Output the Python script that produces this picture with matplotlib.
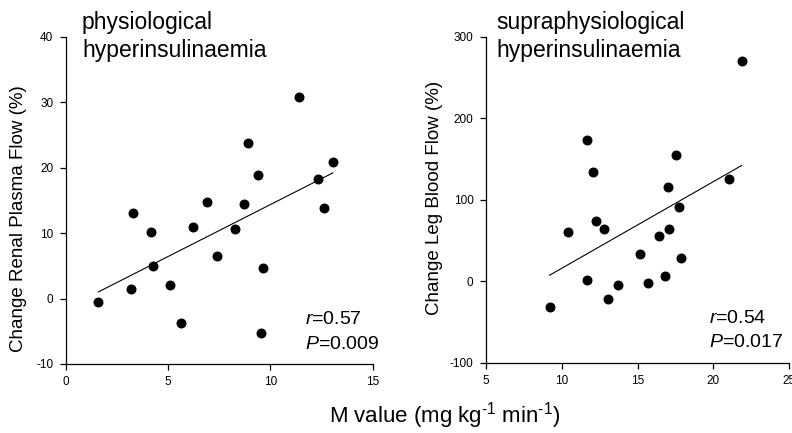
"""Renal plasma flow and leg blood flow change versus M value."""

import matplotlib

matplotlib.use("Agg")
import matplotlib.pyplot as plt
import numpy as np

plt.rcParams["font.family"] = ["Liberation Sans", "DejaVu Sans"]
plt.rcParams["mathtext.fontset"] = "custom"
plt.rcParams["mathtext.rm"] = "Liberation Sans"
plt.rcParams["mathtext.it"] = "Liberation Sans:italic"
plt.rcParams["axes.unicode_minus"] = False

# physiological hyperinsulinaemia
phys_m = [1.60, 3.18, 3.31, 4.15, 4.25, 5.10, 5.64, 6.24, 6.91, 7.41,
          8.27, 8.70, 8.93, 9.38, 9.53, 9.64, 11.42, 12.31, 12.61, 13.05]
phys_rpf = [-0.5, 1.5, 13.1, 10.2, 4.9, 2.0, -3.7, 10.9, 14.7, 6.5,
            10.6, 14.5, 23.7, 18.8, -5.3, 4.7, 30.8, 18.3, 13.8, 20.8]

# supraphysiological hyperinsulinaemia
supra_m = [9.19, 10.42, 11.69, 11.69, 12.04, 12.28, 12.79, 13.03, 13.73, 15.18,
           15.68, 16.40, 16.80, 16.97, 17.04, 17.54, 17.70, 17.89, 21.00, 21.86]
supra_lbf = [-32, 60, 173, 2, 134, 74, 64, -22, -5, 33,
             -2, 55, 6, 116, 64, 155, 91, 29, 126, 270]

panels = [
    dict(x=phys_m, y=phys_rpf, title=("physiological", "hyperinsulinaemia"),
         ylabel="Change Renal Plasma Flow (%)", r="0.57", p="0.009",
         xlim=(0, 15), ylim=(-10, 40), xticks=[0, 5, 10, 15],
         yticks=[-10, 0, 10, 20, 30, 40],
         rect=[0.083, 0.1594, 0.3876, 0.7558], title_x=0.053,
         stat_x=0.78, ylab_pos=(0.023, 0.494)),
    dict(x=supra_m, y=supra_lbf, title=("supraphysiological", "hyperinsulinaemia"),
         ylabel="Change Leg Blood Flow (%)", r="0.54", p="0.017",
         xlim=(5, 25), ylim=(-100, 300), xticks=[5, 10, 15, 20, 25],
         yticks=[-100, 0, 100, 200, 300],
         rect=[0.6136, 0.1624, 0.383, 0.7528], title_x=0.033,
         stat_x=0.735, ylab_pos=(0.548, 0.543)),
]

fig = plt.figure(figsize=(7.92, 4.33), dpi=100)

for panel in panels:
    ax = fig.add_axes(panel["rect"])
    x = np.asarray(panel["x"])
    y = np.asarray(panel["y"])
    ax.scatter(x, y, s=38, color="black", zorder=3, clip_on=False)
    slope, intercept = np.polyfit(x, y, 1)
    fit_x = np.array([x.min(), x.max()])
    ax.plot(fit_x, slope * fit_x + intercept, color="black", lw=0.8)

    ax.set_xlim(*panel["xlim"])
    ax.set_ylim(*panel["ylim"])
    ax.set_xticks(panel["xticks"])
    ax.set_yticks(panel["yticks"])
    ax.spines["top"].set_visible(False)
    ax.spines["right"].set_visible(False)
    for side in ("left", "bottom"):
        ax.spines[side].set_linewidth(0.9)
    ax.tick_params(direction="out", length=4, width=0.9, labelsize=8.5, pad=5)

    for line, ypos in zip(panel["title"], (1.025, 0.938)):
        ax.text(panel["title_x"], ypos, line, transform=ax.transAxes,
                fontsize=16.5, va="baseline", ha="left")
    ax.text(panel["stat_x"], 0.123, rf"$\mathit{{r}}$={panel['r']}",
            transform=ax.transAxes, fontsize=14, va="baseline")
    ax.text(panel["stat_x"], 0.047, rf"$\mathit{{P}}$={panel['p']}",
            transform=ax.transAxes, fontsize=14, va="baseline")
    fig.text(*panel["ylab_pos"], panel["ylabel"], rotation=90, fontsize=13.5,
             ha="center", va="center")

fig.text(0.561, 0.024, r"M value (mg kg$^{\text{-1}}$ min$^{\text{-1}}$)",
         fontsize=16, ha="center", va="baseline")

fig.savefig("out.png", dpi=100)
